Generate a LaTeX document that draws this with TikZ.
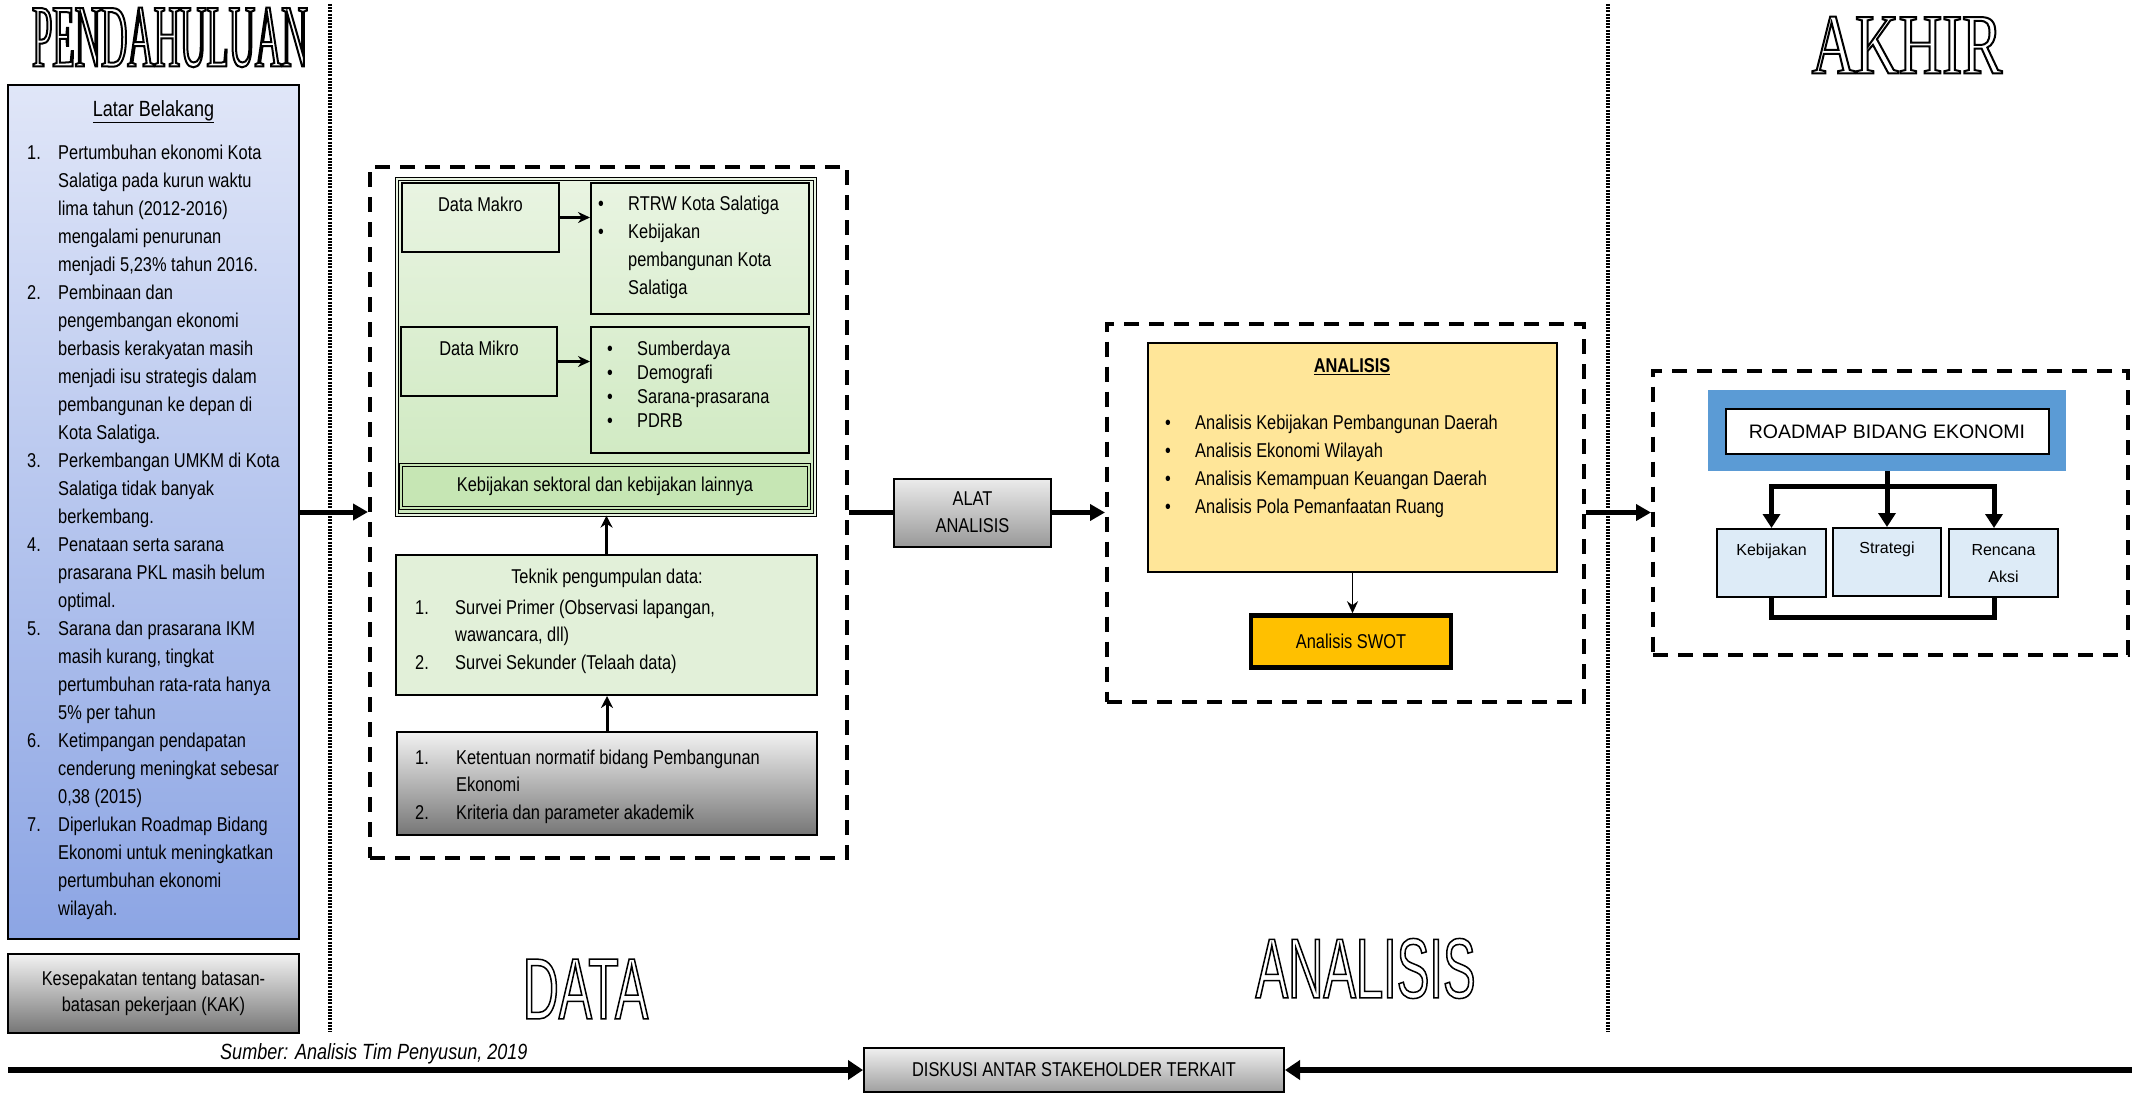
\documentclass[tikz,border=0pt]{standalone}
\usepackage{fontspec}
\setmainfont{Liberation Sans}[FakeStretch=0.82]
\newfontfamily\widesans{Liberation Sans}
\newfontfamily\ttlserif{Liberation Serif}[FakeStretch=0.41]
\newfontfamily\ttlakhir{Liberation Serif}[FakeStretch=0.70]
\newfontfamily\ttlsans{Liberation Sans}[FakeStretch=0.575]
\usetikzlibrary{arrows.meta,positioning}

\definecolor{panelTop}{RGB}{224,230,248}
\definecolor{panelBot}{RGB}{140,165,228}
\definecolor{greyTop}{RGB}{242,242,242}
\definecolor{greyBot}{RGB}{118,118,118}
\definecolor{greenTop}{RGB}{233,244,226}
\definecolor{greenBot}{RGB}{204,232,189}
\definecolor{greenBg}{RGB}{226,240,217}
\definecolor{greenDk}{RGB}{198,230,180}
\definecolor{anlYellow}{RGB}{255,230,153}
\definecolor{swotGold}{RGB}{255,192,0}
\definecolor{rmBlue}{RGB}{91,155,213}
\definecolor{rmPale}{RGB}{221,235,247}

\newcommand{\lbn}[2][31pt]{\makebox[#1][l]{#2}}
\newcommand{\lbi}[1][31pt]{\hspace*{#1}}
\newcommand{\bul}{\makebox[30pt][l]{\textbullet}}
\newcommand{\outl}[2][1.5]{\special{pdf:code 1 Tr #1 w}#2\special{pdf:code 0 Tr}}

\tikzset{
  box/.style={draw=black,line width=2pt,inner sep=0pt},
  greybox/.style={box,top color=greyTop,bottom color=greyBot},
  dbl/.style={draw=black,line width=1.2pt,double=#1,double distance=2.5pt,inner sep=0pt},
  dashbox/.style={draw,line width=4pt,dash pattern=on 15pt off 10pt,inner sep=0pt},
  dotline/.style={line width=3.5pt,dash pattern=on 2pt off 1.2pt},
  txt/.style={inner sep=0pt,align=left,font=\fontsize{20}{28}\selectfont},
  fatarrow/.style={line width=5pt,-{Triangle[length=15pt,width=16pt]}},
  forkarrow/.style={line width=5pt,-{Triangle[length=14pt,width=17pt]}},
  basearrow/.style={line width=6.5pt,-{Triangle[length=15pt,width=19pt]}},
  midarrow/.style={line width=3pt,-{Stealth[length=12pt,width=12pt]}},
  slimarrow/.style={line width=2.5pt,-{Stealth[length=12pt,width=11pt]}},
}

\begin{document}
\begin{tikzpicture}[x=1pt,y=-1pt]
\useasboundingbox (0,0) rectangle (2132,1097);

% titles
\node[inner sep=0pt] (tpend) at (170,37.5) {\ttlserif\fontsize{89}{89}\selectfont\outl[2]{PENDAHULUAN}};
\node[inner sep=0pt] (takhir) at (1907,45) {\ttlakhir\fontsize{86}{86}\selectfont\outl[2]{AKHIR}};
\node[inner sep=0pt] (tdata) at (585.5,989) {\ttlsans\fontsize{86.6}{86.6}\selectfont\outl{DATA}};
\node[inner sep=0pt] (tanl) at (1365.5,968.5) {\ttlsans\fontsize{85}{85}\selectfont\outl{ANALISIS}};

\coordinate (sep1a) at (330,4);
\coordinate (sep1b) at (330,1032);
\coordinate (sep2a) at (1608,4);
\coordinate (sep2b) at (1608,1032);
\draw[dotline] (sep1a) -- (sep1b);
\draw[dotline] (sep2a) -- (sep2b);

% pendahuluan
\node[box,line width=2.5pt,minimum width=291pt,minimum height=854pt,top color=panelTop,bottom color=panelBot] (latar) at (153.5,512) {};
\node[inner sep=0pt,font=\fontsize{22}{22}\selectfont] (latarttl) at (153.5,112) {\underline{Latar Belakang}};
\node[txt,anchor=north west] (latarls) at (27,145) {%
\lbn{1.}Pertumbuhan ekonomi Kota\\ \lbi Salatiga pada kurun waktu\\ \lbi lima tahun (2012-2016)\\
\lbi mengalami penurunan\\ \lbi menjadi 5,23\% tahun 2016.\\
\lbn{2.}Pembinaan dan\\ \lbi pengembangan ekonomi\\ \lbi berbasis kerakyatan masih\\
\lbi menjadi isu strategis dalam\\ \lbi pembangunan ke depan di\\ \lbi Kota Salatiga.\\
\lbn{3.}Perkembangan UMKM di Kota\\ \lbi Salatiga tidak banyak\\ \lbi berkembang.\\
\lbn{4.}Penataan serta sarana\\ \lbi prasarana PKL masih belum\\ \lbi optimal.\\
\lbn{5.}Sarana dan prasarana IKM\\ \lbi masih kurang, tingkat\\ \lbi pertumbuhan rata-rata hanya\\ \lbi 5\% per tahun\\
\lbn{6.}Ketimpangan pendapatan\\ \lbi cenderung meningkat sebesar\\ \lbi 0,38 (2015)\\
\lbn{7.}Diperlukan Roadmap Bidang\\ \lbi Ekonomi untuk meningkatkan\\ \lbi pertumbuhan ekonomi\\ \lbi wilayah.};
\node[greybox,line width=2.5pt,minimum width=291pt,minimum height=79pt,align=center,font=\fontsize{20}{25.5}\selectfont] (kak) at (153.5,993.5) {Kesepakatan tentang batasan-\\batasan pekerjaan (KAK)};

% data
\node[dashbox,minimum width=477pt,minimum height=691pt] (data) at (608.5,512.5) {};
\node[dbl=greenTop,minimum width=418pt,minimum height=336pt,top color=greenTop,bottom color=greenBot] (dataset) at (606,347) {};
\node[box,minimum width=157pt,minimum height=69pt] (makro) at (480.5,217.5) {};
\node[txt,below=15pt of makro.north] (makrotxt) {Data Makro};
\node[box,minimum width=218pt,minimum height=131pt] (rtrw) at (700,248.5) {};
\node[txt,anchor=north west] (rtrwls) at (598,195.5) {\bul RTRW Kota Salatiga\\ \bul Kebijakan\\ \lbi[30pt]pembangunan Kota\\ \lbi[30pt]Salatiga};
\node[box,minimum width=156pt,minimum height=69pt] (mikro) at (479,361.5) {};
\node[txt,below=15pt of mikro.north] (mikrotxt) {Data Mikro};
\node[box,minimum width=218pt,minimum height=126pt] (sdaya) at (700,390) {};
\node[txt,anchor=north west,font=\fontsize{20}{24}\selectfont] (sdayals) at (607,341) {\bul Sumberdaya\\ \bul Demografi\\ \bul Sarana-prasarana\\ \bul PDRB};
\node[dbl=greenDk,fill=greenDk,minimum width=408pt,minimum height=43pt,font=\fontsize{20}{20}\selectfont] (sektoral) at (605,486.5) {Kebijakan sektoral dan kebijakan lainnya};
\draw[slimarrow] (makro.east) -- (makro.east -| rtrw.west);
\draw[slimarrow] (mikro.east) -- (mikro.east -| sdaya.west);

\node[box,fill=greenBg,minimum width=421pt,minimum height=140pt] (teknik) at (606.5,625) {};
\node[txt] (teknikttl) at (607,578) {Teknik pengumpulan data:};
\node[txt,anchor=north west,font=\fontsize{20}{27.5}\selectfont] (teknikls) at (415,599.5) {\lbn[40pt]{1.}Survei Primer (Observasi lapangan,\\ \lbi[40pt]wawancara, dll)\\ \lbn[40pt]{2.}Survei Sekunder (Telaah data)};
\node[greybox,minimum width=420pt,minimum height=103pt] (normatif) at (607,783.5) {};
\node[txt,anchor=north west,font=\fontsize{20}{27.5}\selectfont] (normls) at (415,749.5) {\lbn[41pt]{1.}Ketentuan normatif bidang Pembangunan\\ \lbi[41pt]Ekonomi\\ \lbn[41pt]{2.}Kriteria dan parameter akademik};
\draw[midarrow] (teknik.north) -- (teknik.north |- dataset.south);
\draw[midarrow] (normatif.north) -- (normatif.north |- teknik.south);

\draw[fatarrow] (latar.east) -- (latar.east -| data.west);

% alat analisis
\node[greybox,top color=gray!15,bottom color=gray!80,minimum width=157pt,minimum height=68pt,align=center,font=\fontsize{20}{27}\selectfont] (alat) at (972.5,512.5) {ALAT\\ANALISIS};
\draw[line width=5pt] (data.east) -- (alat.west);

% analisis
\node[dashbox,minimum width=477pt,minimum height=378pt] (anl) at (1345.5,512.5) {};
\node[box,fill=anlYellow,minimum width=409pt,minimum height=229pt] (anlbox) at (1352.5,457.5) {};
\node[inner sep=0pt,font=\bfseries\fontsize{20}{20}\selectfont] (anlttl) at (1352,367) {\underline{ANALISIS}};
\node[txt,anchor=north west] (anlls) at (1165,414.5) {\bul Analisis Kebijakan Pembangunan Daerah\\ \bul Analisis Ekonomi Wilayah\\ \bul Analisis Kemampuan Keuangan Daerah\\ \bul Analisis Pola Pemanfaatan Ruang};
\node[draw,line width=4.5pt,fill=swotGold,minimum width=200pt,minimum height=52pt,font=\fontsize{20}{20}\selectfont] (swot) at (1351,641.5) {Analisis SWOT};
\draw[slimarrow,line width=1.8pt] (anlbox.south) -- (anlbox.south |- swot.north);
\draw[fatarrow] (alat.east) -- (anl.west);

% akhir
\node[dashbox,minimum width=475pt,minimum height=284pt] (akhir) at (1890.5,512.5) {};
\draw[fatarrow] (anl.east) -- (akhir.west);
\node[fill=rmBlue,minimum width=358pt,minimum height=81pt,inner sep=0pt] (rmband) at (1887,430.5) {};
\node[box,fill=white,minimum width=323pt,minimum height=45pt,font=\widesans\fontsize{19.5}{19.5}\selectfont] (roadmap) at (1887,431.5) {ROADMAP BIDANG EKONOMI};
\node[box,fill=rmPale,minimum width=109pt,minimum height=68pt] (kebij) at (1771.5,563) {};
\node[box,fill=rmPale,minimum width=108pt,minimum height=68pt] (strat) at (1887,562) {};
\node[box,fill=rmPale,minimum width=109pt,minimum height=68pt] (renc) at (2003.5,563) {};
\node[txt,below=16pt of kebij.north,font=\widesans\fontsize{16}{27}\selectfont] (kebijtxt) {Kebijakan};
\node[txt,below=15pt of strat.north,font=\widesans\fontsize{16}{27}\selectfont] (strattxt) {Strategi};
\node[txt,below=16pt of renc.north,align=center,font=\widesans\fontsize{16}{27}\selectfont] (renctxt) {Rencana\\Aksi};
\coordinate (rmfork) at (1887,486);
\coordinate (rencin) at (1994,563);
\draw[forkarrow] (rmband.south) -- (strat.north);
\draw[line width=5pt,line cap=rect] (rmfork -| kebij.north) -- (rmfork -| rencin);
\draw[forkarrow] (rmfork -| kebij.north) -- (kebij.north);
\draw[forkarrow] (rmfork -| rencin) -- (rencin |- renc.north);
\draw[line width=5pt] (kebij.south) -- ++(0,19) -| (rencin |- renc.south);

% diskusi
\node[greybox,top color=gray!12,bottom color=gray!75,minimum width=420pt,minimum height=44pt,font=\fontsize{20}{20}\selectfont] (diskusi) at (1074,1070) {DISKUSI ANTAR STAKEHOLDER TERKAIT};
\coordinate (lstart) at (8,1070);
\coordinate (rstart) at (2132,1070);
\draw[basearrow] (lstart) -- (diskusi.west);
\draw[basearrow] (rstart) -- (diskusi.east);
\node[inner sep=0pt,anchor=west,font=\itshape\fontsize{22}{22}\selectfont] (sumber) at (220,1054) {Sumber: Analisis Tim Penyusun, 2019};
\end{tikzpicture}
\end{document}
